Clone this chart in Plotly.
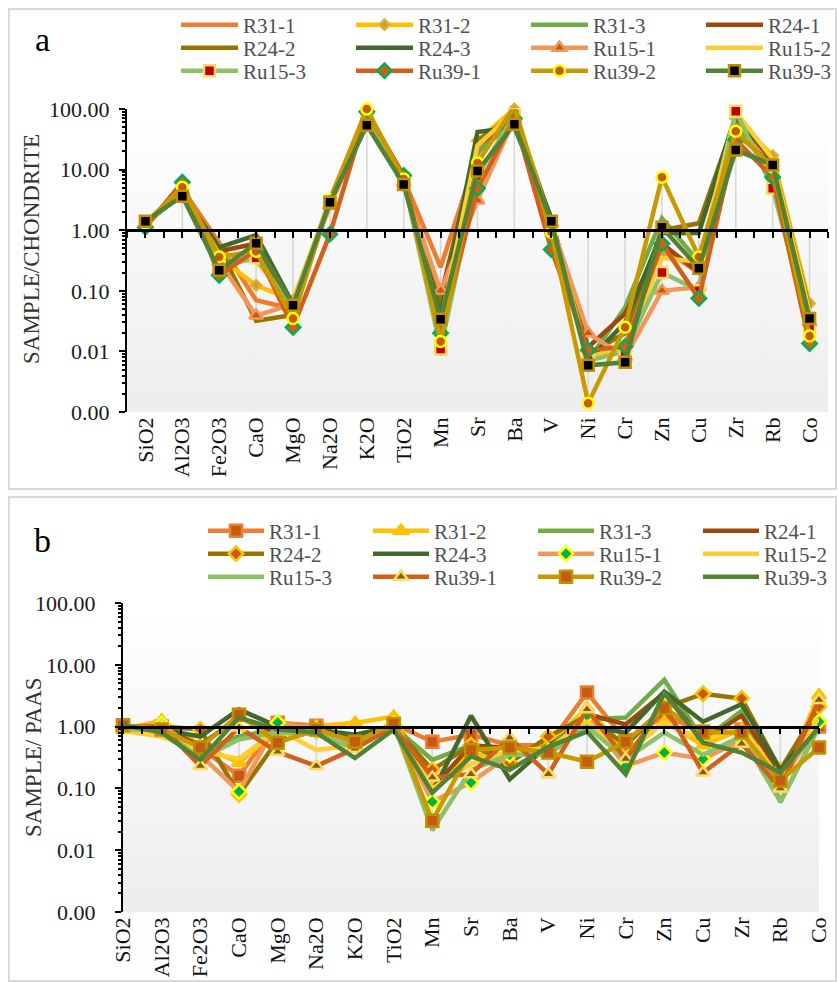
import base64
import plotly.graph_objects as go

# ---------------- data ----------------
categories = ["SiO2", "Al2O3", "Fe2O3", "CaO", "MgO", "Na2O", "K2O", "TiO2", "Mn", "Sr",
              "Ba", "V", "Ni", "Cr", "Zn", "Cu", "Zr", "Rb", "Co"]
series_names = ["R31-1", "R31-2", "R31-3", "R24-1", "R24-2", "R24-3",
                "Ru15-1", "Ru15-2", "Ru15-3", "Ru39-1", "Ru39-2", "Ru39-3"]

# panel a : sample / chondrite
a_R31_1 = [1.3, 4.8, 0.62, 0.07, 0.05, 3.3, 80, 7.0, 0.245, 18, 90, 1.4, 0.009, 0.012, 0.5, 0.2, 60, 14, 0.04]
a_R31_2 = [1.2, 4.5, 0.35, 0.123, 0.07, 3.0, 90, 6.5, 0.05, 30, 100, 1.3, 0.008, 0.010, 0.4, 0.25, 70, 17, 0.062]
a_R31_3 = [1.3, 4.0, 0.30, 0.5, 0.06, 3.0, 75, 7.0, 0.03, 20, 60, 1.5, 0.007, 0.053, 1.58, 0.3, 50, 10, 0.04]
a_R24_1 = [1.3, 4.2, 0.45, 0.6, 0.055, 3.0, 70, 6.5, 0.08, 25, 70, 1.3, 0.0117, 0.042, 0.6, 0.2, 40, 12, 0.035]
a_R24_2 = [1.3, 4.0, 0.50, 0.032, 0.04, 3.0, 70, 6.0, 0.06, 30, 80, 1.5, 0.009, 0.02, 1.0, 1.3, 70, 15, 0.05]
a_R24_3 = [1.3, 4.0, 0.52, 0.83, 0.06, 3.0, 65, 6.0, 0.04, 41.7, 50, 1.6, 0.007, 0.03, 0.9, 0.9, 80, 14, 0.04]
a_Ru15_1 = [1.2, 4.5, 0.30, 0.039, 0.06, 2.5, 60, 6.0, 0.1, 3.1, 70, 1.3, 0.02, 0.008, 0.1, 0.115, 30, 8, 0.03]
a_Ru15_2 = [1.3, 4.2, 0.40, 0.3, 0.06, 3.2, 85, 7.0, 0.03, 25, 90, 1.2, 0.008, 0.012, 0.35, 0.3, 90, 15, 0.045]
a_Ru15_3 = [1.3, 4.0, 0.25, 0.35, 0.05, 3.0, 80, 7.0, 0.011, 8, 80, 1.0, 0.007, 0.010, 0.2, 0.1, 92, 4.9, 0.025]
a_Ru39_1 = [1.12, 6.2, 0.18, 0.47, 0.025, 0.86, 90, 8.0, 0.02, 4.9, 70, 0.48, 0.0104, 0.012, 0.6, 0.075, 31, 7.5, 0.0135]
a_Ru39_2 = [1.3, 5.1, 0.36, 0.45, 0.035, 3.2, 100, 7.0, 0.0146, 12.8, 110, 0.93, 0.0014, 0.025, 7.5, 0.36, 43, 11, 0.018]
a_Ru39_3 = [1.41, 3.65, 0.218, 0.61, 0.058, 2.9, 54, 5.7, 0.034, 9.5, 56, 1.41, 0.0059, 0.0066, 1.12, 0.235, 21, 11.9, 0.035]

# panel b : sample / PAAS
b_R31_1 = [1.0, 1.0, 0.45, 0.16, 1.15, 1.03, 0.55, 1.1, 0.57, 0.74, 0.5, 0.5, 3.55, 0.6, 1.5, 0.83, 0.9, 0.15, 1.0]
b_R31_2 = [0.9, 1.25, 0.5, 0.26, 0.9, 1.0, 1.15, 1.45, 0.13, 0.35, 0.35, 0.5, 2.0, 0.4, 1.2, 0.5, 0.9, 0.12, 3.2]
b_R31_3 = [1.0, 0.9, 0.4, 0.7, 0.9, 0.85, 0.7, 1.0, 0.29, 0.5, 0.3, 0.5, 1.3, 1.4, 5.7, 0.6, 1.8, 0.06, 1.0]
b_R24_1 = [1.0, 0.95, 0.5, 1.4, 0.8, 0.9, 0.6, 1.0, 0.1, 0.5, 0.45, 0.4, 1.6, 1.08, 3.5, 0.6, 1.5, 0.18, 2.0]
b_R24_2 = [1.0, 1.0, 0.9, 0.08, 0.6, 0.85, 0.6, 1.0, 0.2, 0.5, 0.26, 0.69, 1.5, 0.5, 2.0, 3.4, 2.85, 0.2, 2.1]
b_R24_3 = [1.0, 0.9, 0.69, 1.9, 1.0, 0.9, 0.74, 1.0, 0.085, 1.5, 0.14, 0.5, 1.0, 0.8, 3.7, 1.2, 2.3, 0.2, 1.2]
b_Ru15_1 = [0.95, 1.1, 0.35, 0.089, 1.16, 0.9, 0.5, 1.1, 0.061, 0.125, 0.35, 0.4, 1.5, 0.23, 0.38, 0.3, 0.6, 0.12, 1.2]
b_Ru15_2 = [0.85, 0.69, 0.4, 0.3, 0.9, 0.42, 0.5, 1.2, 0.1, 0.25, 0.4, 0.45, 1.2, 0.35, 1.2, 0.6, 1.0, 0.14, 1.4]
b_Ru15_3 = [0.9, 0.9, 0.3, 0.62, 0.8, 0.75, 0.45, 1.1, 0.021, 0.2, 0.35, 0.35, 1.0, 0.3, 0.8, 0.35, 0.7, 0.061, 1.0]
b_Ru39_1 = [1.0, 1.0, 0.23, 0.97, 0.39, 0.23, 0.44, 1.0, 0.15, 0.17, 0.66, 0.17, 1.9, 0.3, 2.2, 0.18, 0.53, 0.1, 2.7]
b_Ru39_2 = [1.05, 0.9, 0.46, 1.55, 0.55, 0.9, 0.57, 1.1, 0.03, 0.42, 0.46, 0.38, 0.27, 0.57, 2.0, 0.8, 0.8, 0.134, 0.46]
b_Ru39_3 = [1.05, 0.8, 0.29, 1.4, 0.9, 0.8, 0.31, 0.9, 0.085, 0.33, 0.2, 0.47, 0.83, 0.17, 3.5, 0.55, 0.38, 0.18, 0.97]

y_tickvals = [0.001, 0.01, 0.1, 1, 10, 100]
y_ticktext = ["0.00", "0.01", "0.10", "1.00", "10.00", "100.00"]
y_titles = ["SAMPLE/CHONDRITE", "SAMPLE/ PAAS"]
panel_letters = ["a", "b"]

panel_a_values = [a_R31_1, a_R31_2, a_R31_3, a_R24_1, a_R24_2, a_R24_3,
                  a_Ru15_1, a_Ru15_2, a_Ru15_3, a_Ru39_1, a_Ru39_2, a_Ru39_3]
panel_b_values = [b_R31_1, b_R31_2, b_R31_3, b_R24_1, b_R24_2, b_R24_3,
                  b_Ru15_1, b_Ru15_2, b_Ru15_3, b_Ru39_1, b_Ru39_2, b_Ru39_3]

# ---------------- styles ----------------
line_colors = ["#ED7D31", "#FFC000", "#70AD47", "#9E480E", "#997300", "#43682B",
               "#F1975A", "#FFCD33", "#8CC168", "#D0601A", "#C89A00", "#548235"]

# (symbol, size, fill, edge) ; None = no marker
markers_a = [None, ("diamond", 8, "#C9A040", "#E0B030"), None, None, None, None,
             ("triangle-up", 12, "#C55A11", "#F1975A"), None, ("square", 11, "#C00000", "#FFD966"),
             ("diamond", 11, "#D0601A", "#00B050"), ("circle", 11, "#C55A11", "#FFFF00"),
             ("square", 11, "#000000", "#BF9000")]
markers_b = [("square", 12, "#C55A11", "#ED7D31"), ("triangle-up", 12, "#FFC000", "#FFC000"), None, None,
             ("diamond", 11, "#C55A11", "#FFC000"), None, ("diamond", 11, "#00B050", "#FFFF00"), None, None,
             ("triangle-up", 12, "#7F6000", "#FFD966"), ("square", 12, "#C55A11", "#BF9000"), None]

W, H = 838, 982
SERIF = "Liberation Serif"

# plot-area rectangles in pixels (left, right, top, bottom)
rect_a = (127, 828, 109, 412)
rect_b = (123, 819, 603, 912)


def dom_x(r):
    return [r[0] / W, r[1] / W]


def dom_y(r):
    return [1 - r[3] / H, 1 - r[2] / H]


xs = list(range(len(categories)))
fig = go.Figure()


def drop_lines(values_list, xaxis, yaxis):
    dx, dy = [], []
    for k in xs:
        col = [v[k] for v in values_list]
        lo, hi = min(min(col), 1), max(max(col), 1)
        dx += [k, k, None]
        dy += [lo, hi, None]
    fig.add_trace(go.Scatter(x=dx, y=dy, mode="lines", xaxis=xaxis, yaxis=yaxis,
                             line=dict(color="#d6d6d6", width=1.5), showlegend=False,
                             hoverinfo="skip"))


drop_lines(panel_a_values, "x", "y")
drop_lines(panel_b_values, "x2", "y2")


def add_series(values_list, markers, xaxis, yaxis, legend_base):
    for i, (name, vals) in enumerate(zip(series_names, values_list)):
        mk = markers[i]
        n = legend_base + i // 4
        legend_id = "legend" if n == 1 else f"legend{n}"
        if mk is None:
            tr = go.Scatter(x=xs, y=vals, name=name, mode="lines",
                            line=dict(color=line_colors[i], width=4.5))
        else:
            sym, size, fill, edge = mk
            tr = go.Scatter(x=xs, y=vals, name=name, mode="lines+markers",
                            line=dict(color=line_colors[i], width=4.5),
                            marker=dict(symbol=sym, size=size, color=fill,
                                        line=dict(color=edge, width=2.5)))
        tr.update(xaxis=xaxis, yaxis=yaxis, legend=legend_id, cliponaxis=False)
        fig.add_trace(tr)


add_series(panel_a_values, markers_a, "x", "y", 1)
add_series(panel_b_values, markers_b, "x2", "y2", 4)

# invisible traces so the overlay (axis-at-1) axes are created
fig.add_trace(go.Scatter(x=[], y=[], xaxis="x3", yaxis="y", showlegend=False))
fig.add_trace(go.Scatter(x=[], y=[], xaxis="x4", yaxis="y2", showlegend=False))

TITLE_FONT = dict(family=SERIF, size=23, color="#333333")


def yaxis_cfg(rect, anchor, label_gap):
    return dict(type="log", range=[-3, 2], domain=dom_y(rect), anchor=anchor,
                tickvals=y_tickvals, ticktext=y_ticktext, ticks="outside", ticklen=6,
                tickwidth=2, tickcolor="black", showline=True, linecolor="black", linewidth=2,
                showgrid=False, zeroline=False, ticklabelstandoff=label_gap,
                tickfont=dict(family=SERIF, size=22, color="#1a1a1a"),
                minor=dict(ticks="outside", ticklen=3, tickwidth=1.5, tickcolor="black",
                           dtick="D1", showgrid=False))


def xaxis_cfg(rect, rng, anchor):
    return dict(domain=dom_x(rect), range=rng, anchor=anchor, tickmode="array", tickvals=xs,
                ticktext=categories, tickangle=-90, ticks="", showline=False, showgrid=False,
                zeroline=False, tickfont=dict(family=SERIF, size=22, color="#111111"))


def axis_at_one(rect, rng, overlay):
    d = dom_y(rect)
    pos = d[0] + (0 + 3) / 5 * (d[1] - d[0])
    half = [k / 2 for k in range(int(rng[0] * 2), int(rng[1] * 2) + 1)]
    return dict(domain=dom_x(rect), range=rng, overlaying=overlay, anchor="free", position=pos,
                side="bottom", showline=True, linecolor="black", linewidth=2.5, ticks="outside",
                ticklen=6, tickwidth=2, tickcolor="black", tickmode="array", tickvals=half,
                showticklabels=False, showgrid=False, zeroline=False)


range_a = [-0.5, 18.5]
range_b = [0, 18]

fig.update_layout(
    width=W, height=H, margin=dict(l=0, r=0, t=0, b=0, autoexpand=False),
    paper_bgcolor="white", plot_bgcolor="rgba(0,0,0,0)",
    xaxis=xaxis_cfg(rect_a, range_a, "y"),
    yaxis=yaxis_cfg(rect_a, "x", 5),
    xaxis2=xaxis_cfg(rect_b, range_b, "y2"),
    yaxis2=yaxis_cfg(rect_b, "x2", 15),
    xaxis3=axis_at_one(rect_a, range_a, "x"),
    xaxis4=axis_at_one(rect_b, range_b, "x2"),
    showlegend=True,
)

# y-axis titles (placed as rotated text beside each axis)
for txt, (px, py) in zip(y_titles, [(32, 249), (33, 757)]):
    fig.add_annotation(text=txt, textangle=-90, xref="paper", yref="paper",
                       x=px / W, y=1 - py / H, xanchor="center", yanchor="middle",
                       showarrow=False, font=TITLE_FONT)

# gradient background for plot areas
svg = ('<svg xmlns="http://www.w3.org/2000/svg" width="100" height="100" preserveAspectRatio="none">'
       '<defs><linearGradient id="g" x1="0" y1="0" x2="0" y2="1">'
       '<stop offset="0" stop-color="#ffffff"/><stop offset="1" stop-color="#ededed"/>'
       '</linearGradient></defs><rect width="100" height="100" fill="url(#g)"/></svg>')
src = "data:image/svg+xml;base64," + base64.b64encode(svg.encode()).decode()
images = []
for r in (rect_a, rect_b):
    images.append(dict(source=src, xref="paper", yref="paper", x=r[0] / W, y=1 - r[2] / H,
                       sizex=(r[1] - r[0]) / W, sizey=(r[3] - r[2]) / H, sizing="stretch",
                       xanchor="left", yanchor="top", layer="below"))
fig.update_layout(images=images)

# panel frames
for (x0, y0, x1, y1) in [(9, 9, 836, 489), (9, 497, 836, 981)]:
    fig.add_shape(type="rect", xref="paper", yref="paper", x0=x0 / W, x1=x1 / W,
                  y0=1 - y1 / H, y1=1 - y0 / H, line=dict(color="#d9d9d9", width=2),
                  fillcolor="rgba(0,0,0,0)", layer="below")

# panel letters
for txt, (px, py) in zip(panel_letters, [(42, 40), (42, 540)]):
    fig.add_annotation(text=txt, xref="paper", yref="paper", x=px / W, y=1 - py / H,
                       xanchor="center", yanchor="middle",
                       showarrow=False, font=dict(family=SERIF, size=34, color="black"))

# legends: one horizontal legend per row, 4 fixed-width entries each
leg_font = dict(family=SERIF, size=21, color="#505050")
legends = {}
rows_a = [25, 48, 71]
rows_b = [531, 554, 577]
for j, ry in enumerate(rows_a):
    key = "legend" if j == 0 else f"legend{j + 1}"
    legends[key] = dict(x=176 / W, y=1 - ry / H, xanchor="left", yanchor="middle",
                        orientation="h", bgcolor="rgba(0,0,0,0)", font=leg_font,
                        itemwidth=57, entrywidth=103, entrywidthmode="pixels",
                        traceorder="normal")
for j, ry in enumerate(rows_b):
    key = f"legend{j + 4}"
    legends[key] = dict(x=203 / W, y=1 - ry / H, xanchor="left", yanchor="middle",
                        orientation="h", bgcolor="rgba(0,0,0,0)", font=leg_font,
                        itemwidth=56, entrywidth=94, entrywidthmode="pixels",
                        traceorder="normal")
fig.update_layout(**legends)

fig.write_html("out.html")
